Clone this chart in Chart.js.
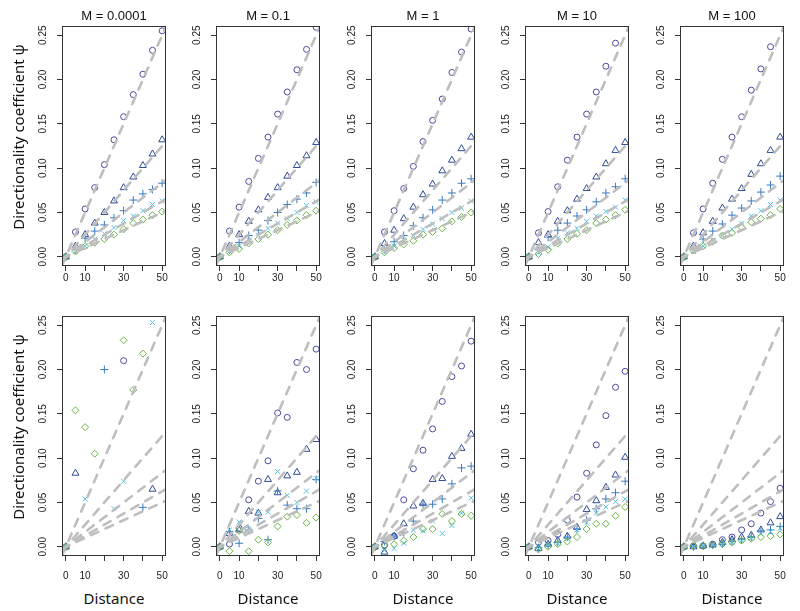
<!DOCTYPE html>
<html><head><meta charset="utf-8">
<script src="https://cdn.jsdelivr.net/npm/chart.js@4.4.1/dist/chart.umd.min.js"></script>
<style>
html,body{margin:0;padding:0;background:#fff;}
body{width:800px;height:611px;position:relative;overflow:hidden;}
canvas{position:absolute;}
.title{position:absolute;font:13px "Liberation Sans",Arial,sans-serif;color:#111;white-space:nowrap;transform:translate(-50%,-50%);}
.ylab{position:absolute;font:15px "Noto Sans",sans-serif;color:#111;white-space:nowrap;transform:translate(-50%,-50%) rotate(-90deg);}
.xlab{position:absolute;font:15px "Noto Sans",sans-serif;color:#111;white-space:nowrap;transform:translate(-50%,-50%);}
</style></head>
<body>
<script>
// ---------------- data ----------------
const distances = [0, 5, 10, 15, 20, 25, 30, 35, 40, 45, 50];
const migrationLabels = ['M = 0.0001', 'M = 0.1', 'M = 1', 'M = 10', 'M = 100'];
const seriesSymbols = ['circle', 'triangle', 'plus', 'cross', 'diamond'];
const refSlopes = [0.005, 0.0025, 0.005 / 3, 0.00125, 0.001];
const yTickValues = [0, 0.05, 0.10, 0.15, 0.20, 0.25];
const xTickValues = [0, 10, 20, 30, 40, 50];
const xTickLabels = ['0', '10', '', '30', '', '50'];
const yAxisTitle = 'Directionality coefficient \u03C8';
const xAxisTitle = 'Distance';

// rows of each array: circle, triangle, plus, cross, diamond
const top_M0001 = [
  [0, 0.028, 0.054, 0.078, 0.104, 0.132, 0.158, 0.183, 0.206, 0.233, 0.255],
  [0, 0.012, 0.025, 0.038, 0.050, 0.063, 0.078, 0.090, 0.103, 0.116, 0.132],
  [0, 0.008, 0.021, 0.029, 0.036, 0.044, 0.052, 0.064, 0.071, 0.076, 0.083],
  [0, 0.006, 0.012, 0.020, 0.026, 0.033, 0.041, 0.046, 0.052, 0.059, 0.063],
  [0, 0.006, 0.012, 0.016, 0.020, 0.025, 0.031, 0.038, 0.042, 0.047, 0.051]
];
const top_M01 = [
  [0, 0.029, 0.056, 0.085, 0.111, 0.135, 0.161, 0.186, 0.211, 0.234, 0.259],
  [0, 0.012, 0.025, 0.040, 0.053, 0.067, 0.078, 0.091, 0.103, 0.114, 0.129],
  [0, 0.008, 0.016, 0.024, 0.030, 0.041, 0.050, 0.059, 0.065, 0.072, 0.084],
  [0, 0.006, 0.012, 0.019, 0.024, 0.032, 0.038, 0.043, 0.050, 0.058, 0.062],
  [0, 0.005, 0.009, 0.015, 0.020, 0.025, 0.030, 0.036, 0.041, 0.047, 0.052]
];
const top_M1 = [
  [0, 0.028, 0.052, 0.077, 0.102, 0.130, 0.154, 0.178, 0.208, 0.231, 0.257],
  [0, 0.015, 0.030, 0.043, 0.056, 0.070, 0.082, 0.097, 0.109, 0.122, 0.135],
  [0, 0.008, 0.017, 0.024, 0.035, 0.044, 0.053, 0.064, 0.072, 0.083, 0.088],
  [0, 0.006, 0.012, 0.019, 0.024, 0.031, 0.037, 0.043, 0.050, 0.055, 0.063],
  [0, 0.005, 0.010, 0.014, 0.018, 0.025, 0.028, 0.032, 0.040, 0.045, 0.050]
];
const top_M10 = [
  [0, 0.027, 0.051, 0.079, 0.109, 0.135, 0.161, 0.186, 0.215, 0.241, null],
  [0, 0.016, 0.025, 0.040, 0.052, 0.065, 0.077, 0.090, 0.105, 0.120, 0.129],
  [0, 0.008, 0.022, 0.030, 0.038, 0.046, 0.053, 0.062, 0.072, 0.079, 0.088],
  [0, 0.005, 0.011, 0.021, 0.027, 0.032, 0.040, 0.046, 0.051, 0.056, 0.064],
  [0, 0.003, 0.008, 0.015, 0.020, 0.026, 0.030, 0.038, 0.042, 0.047, 0.053]
];
const top_M100 = [
  [0, 0.027, 0.054, 0.083, 0.110, 0.135, 0.158, 0.188, 0.212, 0.237, null],
  [0, 0.012, 0.027, 0.040, 0.055, 0.065, 0.077, 0.093, 0.105, 0.120, 0.135],
  [0, 0.009, 0.020, 0.029, 0.037, 0.047, 0.055, 0.063, 0.073, 0.081, 0.091],
  [0, 0.006, 0.012, 0.019, 0.024, 0.031, 0.038, 0.046, 0.052, 0.059, 0.064],
  [0, 0.007, 0.012, 0.017, 0.024, 0.027, 0.033, 0.039, 0.043, 0.047, 0.054]
];
const bot_M0001 = [
  [0, null, null, null, null, null, 0.210, null, null, null, null],
  [0, 0.083, null, null, null, null, null, null, null, 0.065, null],
  [0, null, null, null, 0.200, null, null, null, 0.0445, null, null],
  [0, null, 0.054, null, null, 0.043, 0.074, null, null, 0.253, null],
  [0, 0.154, 0.135, 0.105, null, null, 0.233, 0.177, 0.218, null, null]
];
const bot_M01 = [
  [0, 0.003, 0.021, 0.053, 0.074, 0.097, 0.151, 0.146, 0.208, 0.200, 0.223],
  [0, 0.015, 0.019, 0.040, 0.038, 0.076, 0.061, 0.080, 0.084, 0.110, 0.121],
  [0, 0.017, 0.004, 0.019, 0.032, 0.008, 0.063, 0.047, 0.043, 0.043, 0.076],
  [0, 0.019, 0.028, 0.020, 0.039, 0.039, 0.085, 0.058, 0.050, 0.063, 0.077],
  [0, -0.005, 0.018, -0.005, 0.008, 0.005, 0.023, 0.034, 0.036, 0.027, 0.033]
];
const bot_M1 = [
  [0, 0.002, 0.012, 0.053, 0.088, 0.109, 0.133, 0.164, 0.192, 0.204, 0.232],
  [0, -0.006, 0.012, 0.026, 0.046, 0.049, 0.076, 0.077, 0.102, 0.111, 0.127],
  [0, 0.006, 0.012, 0.016, 0.029, 0.048, 0.048, 0.054, 0.071, 0.089, 0.091],
  [0, -0.004, -0.002, 0.004, 0.019, 0.018, 0.029, 0.015, 0.024, 0.038, 0.055],
  [0, 0.001, 0.003, 0.007, 0.011, 0.020, 0.020, 0.037, 0.029, 0.037, 0.035]
];
const bot_M10 = [
  [0, 0.005, 0.007, 0.014, 0.030, 0.056, 0.083, 0.115, 0.148, 0.180, 0.198],
  [0, -0.002, 0.003, 0.007, 0.012, 0.022, 0.042, 0.052, 0.067, 0.081, 0.101],
  [0, -0.001, 0.002, 0.005, 0.011, 0.020, 0.030, 0.043, 0.054, 0.061, 0.074],
  [0, -0.002, 0.002, 0.004, 0.009, 0.019, 0.027, 0.038, 0.045, 0.051, 0.054],
  [0, -0.003, 0.000, 0.003, 0.006, 0.011, 0.020, 0.026, 0.026, 0.035, 0.045]
];
const bot_M100 = [
  [0, 0.001, 0.001, 0.003, 0.008, 0.011, 0.019, 0.026, 0.038, 0.051, 0.066],
  [0, 0.000, 0.001, 0.002, 0.005, 0.008, 0.011, 0.013, 0.019, 0.027, 0.034],
  [0, 0.000, 0.001, 0.002, 0.003, 0.006, 0.008, 0.011, 0.018, 0.019, 0.023],
  [0, 0.000, 0.001, 0.002, 0.003, 0.005, 0.007, 0.010, 0.015, 0.017, 0.021],
  [0, 0.001, 0.001, 0.002, 0.003, 0.005, 0.007, 0.009, 0.011, 0.012, 0.014]
];

// ---------------- styling ----------------
const symbolStyle = {
  circle:   { pointStyle: 'circle',   radius: 3,   color: '#4a4a9c' },
  triangle: { pointStyle: 'triangle', radius: 4,   color: '#2f4a96' },
  plus:     { pointStyle: 'cross',    radius: 4,   color: '#3b7cc0' },
  cross:    { pointStyle: 'crossRot', radius: 3.5, color: '#56c0e0' },
  diamond:  { pointStyle: 'rectRot',  radius: 3.5, color: '#68b444' }
};
const X_MIN = -2, X_MAX = 52, Y_MIN = -0.0104, Y_MAX = 0.2604;
const colLefts = [62, 216, 371, 525, 680];
const rowTops = [26, 316];
const rowTickPad = [1, 9];
const PW = 104, PH = 240;
const PAD_L = 40, PAD_T = 8, PAD_R = 12, PAD_B = 32;

const framePlugin = {
  id: 'frame',
  afterDraw(chart) {
    const { ctx, chartArea: a } = chart;
    const ys = chart.scales.y;
    ctx.save();
    ctx.strokeStyle = '#333';
    ctx.lineWidth = 1;
    ctx.strokeRect(Math.round(a.left) + 0.5, Math.round(a.top) + 0.5,
      Math.round(a.right - a.left) - 1, Math.round(a.bottom - a.top) - 1);
    ctx.fillStyle = '#222';
    ctx.font = '10px "Liberation Sans", Arial, sans-serif';
    ctx.textAlign = 'center';
    ctx.textBaseline = 'middle';
    yTickValues.forEach(v => {
      const py = ys.getPixelForValue(v);
      ctx.save();
      ctx.translate(a.left - 19, py);
      ctx.rotate(-Math.PI / 2);
      ctx.fillText(v.toFixed(2), 0, 0);
      ctx.restore();
    });
    ctx.restore();
  }
};

function makePanel(values, col, row) {
  const cv = document.createElement('canvas');
  const w = PAD_L + PW + PAD_R, h = PAD_T + PH + PAD_B;
  cv.width = w; cv.height = h;
  cv.style.width = w + 'px'; cv.style.height = h + 'px';
  cv.style.left = (colLefts[col] - PAD_L) + 'px';
  cv.style.top = (rowTops[row] - PAD_T) + 'px';
  document.body.appendChild(cv);

  const datasets = [];
  refSlopes.forEach(s => {
    datasets.push({
      type: 'line',
      data: [{ x: X_MIN, y: s * X_MIN }, { x: X_MAX, y: s * X_MAX }],
      borderColor: '#bebebe', borderWidth: 2.6, borderDash: [8, 8],
      borderCapStyle: 'round', pointRadius: 0, showLine: true, clip: 0, tension: 0
    });
  });
  for (let k = seriesSymbols.length - 1; k >= 0; k--) {
    const st = symbolStyle[seriesSymbols[k]];
    const pts = [];
    distances.forEach((d, i) => { if (values[k][i] !== null) pts.push({ x: d, y: values[k][i] }); });
    datasets.push({
      type: 'scatter', label: seriesSymbols[k], data: pts,
      pointStyle: st.pointStyle, pointRadius: st.radius, pointBorderColor: st.color,
      pointBackgroundColor: 'rgba(0,0,0,0)', pointBorderWidth: 1, showLine: false, clip: 0
    });
  }

  new Chart(cv, {
    type: 'scatter',
    data: { datasets },
    options: {
      responsive: false, animation: false, devicePixelRatio: 1,
      layout: { padding: { left: 0, top: PAD_T, right: PAD_R, bottom: 0 } },
      plugins: { legend: { display: false }, tooltip: { enabled: false } },
      scales: {
        x: {
          type: 'linear', min: X_MIN, max: X_MAX,
          afterBuildTicks: sc => { sc.ticks = xTickValues.map(v => ({ value: v })); },
          afterFit: sc => { sc.height = PAD_B; },
          grid: { drawOnChartArea: false, drawTicks: true, tickLength: 5, color: '#333', lineWidth: 1 },
          border: { display: false },
          ticks: {
            autoSkip: false, maxRotation: 0, minRotation: 0, padding: rowTickPad[row], color: '#222',
            font: { family: '"Liberation Sans", Arial, sans-serif', size: 10 },
            callback: (v) => { const i = xTickValues.indexOf(v); return i >= 0 ? xTickLabels[i] : ''; }
          }
        },
        y: {
          type: 'linear', min: Y_MIN, max: Y_MAX,
          afterBuildTicks: sc => { sc.ticks = yTickValues.map(v => ({ value: v })); },
          afterFit: sc => { sc.width = PAD_L; },
          grid: { drawOnChartArea: false, drawTicks: true, tickLength: 5, color: '#333', lineWidth: 1 },
          border: { display: false },
          ticks: { display: false }
        }
      }
    },
    plugins: [framePlugin]
  });
}

const topRow = [top_M0001, top_M01, top_M1, top_M10, top_M100];
const bottomRow = [bot_M0001, bot_M01, bot_M1, bot_M10, bot_M100];
topRow.forEach((v, c) => makePanel(v, c, 0));
bottomRow.forEach((v, c) => makePanel(v, c, 1));

function addText(cls, text, x, y) {
  const d = document.createElement('div');
  d.className = cls; d.textContent = text;
  d.style.left = x + 'px'; d.style.top = y + 'px';
  document.body.appendChild(d);
}
migrationLabels.forEach((t, c) => addText('title', t, colLefts[c] + PW / 2, 15));
rowTops.forEach(t => addText('ylab', yAxisTitle, 18, t + PH / 2 - 9));
colLefts.forEach(l => addText('xlab', xAxisTitle, l + PW / 2, 598));
</script>
</body></html>
